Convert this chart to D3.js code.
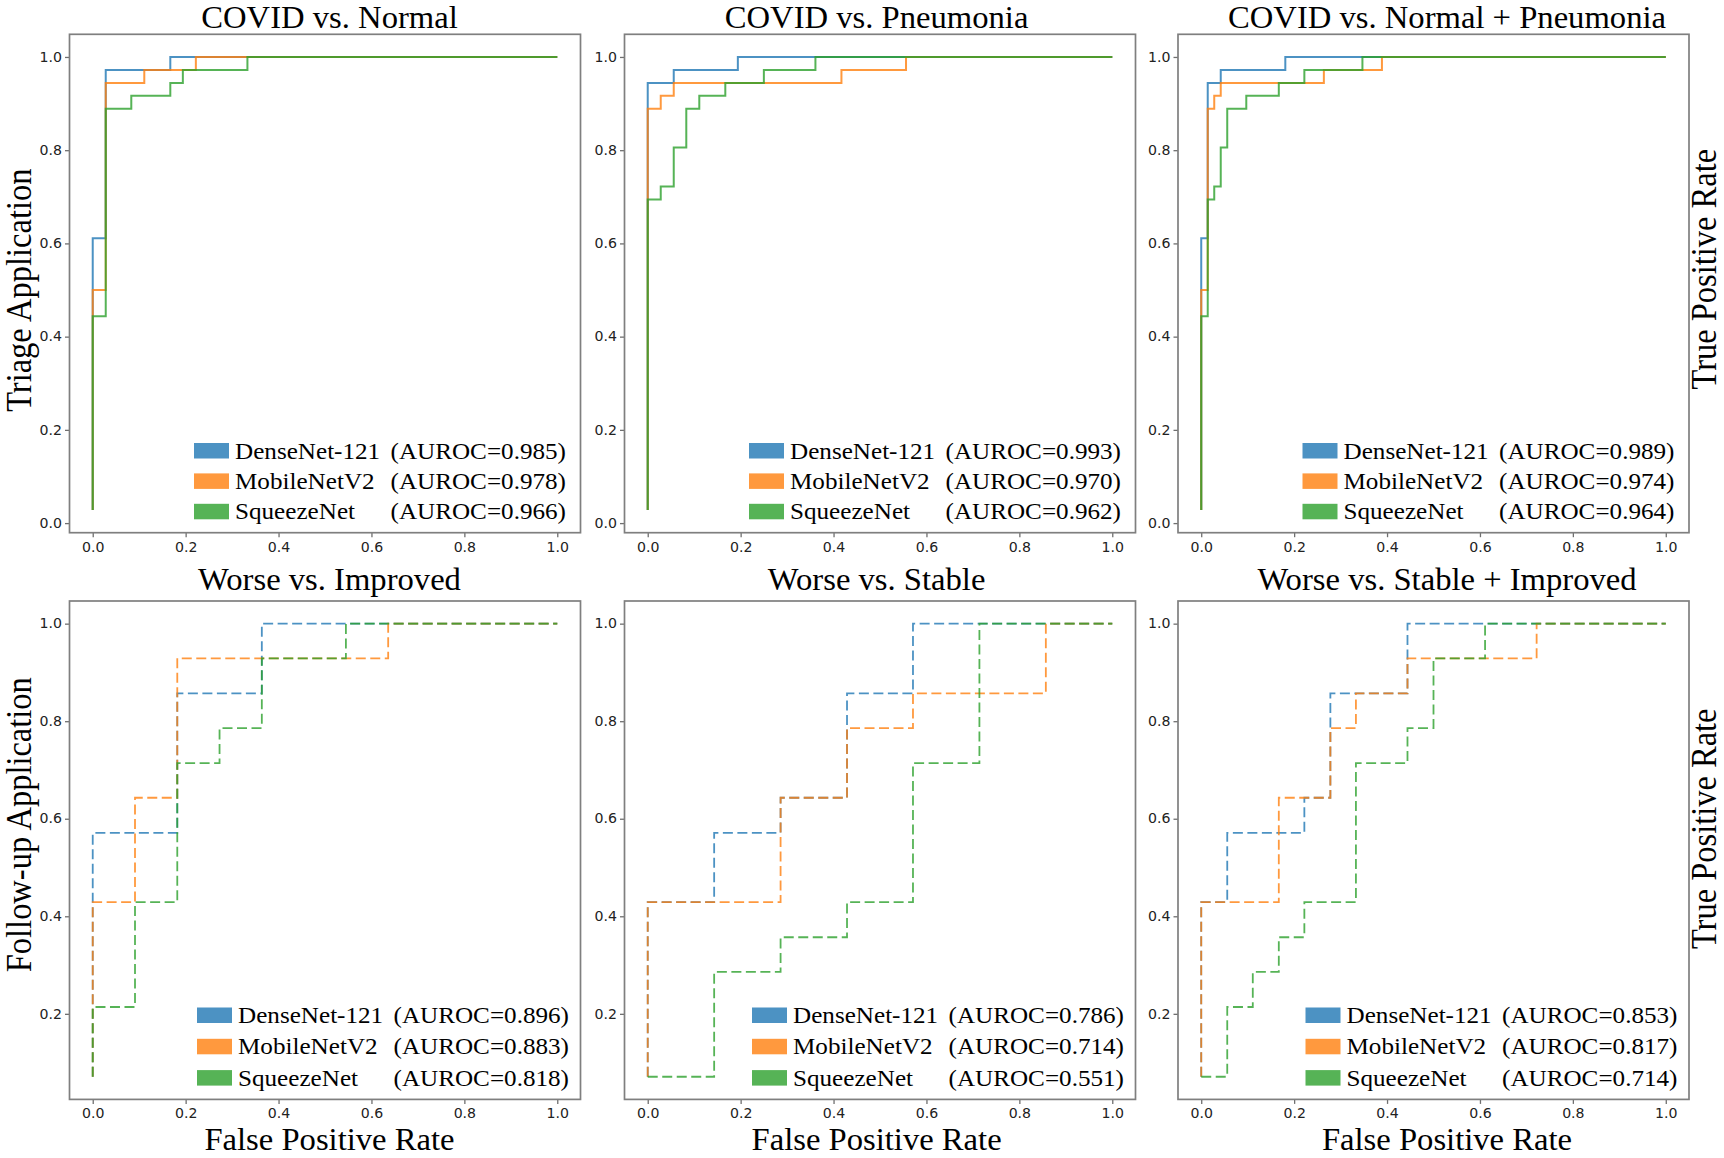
<!DOCTYPE html>
<html>
<head>
<meta charset="utf-8">
<script src="https://cdn.jsdelivr.net/npm/d3@7"></script>
<style>
  body { margin: 0; background: #fff; }
  svg { display: block; background: #fff; }
  .serif { font-family: "Liberation Serif", "Times New Roman", serif; fill: #000; }
  .tick text { font-family: "DejaVu Sans", sans-serif; font-size: 13.2px; fill: #222; }
  .tick line { stroke: #6f6f6f; stroke-width: 1.3; }
</style>
</head>
<body>
<svg id="chart" width="1724" height="1158"></svg>
<script>
// models, colours, labels
var models = ["DenseNet-121", "MobileNetV2", "SqueezeNet"];
var colors = ["#1f77b4", "#ff7f0e", "#2ca02c"];
var titles = [
  ["COVID vs. Normal", "COVID vs. Pneumonia", "COVID vs. Normal + Pneumonia"],
  ["Worse vs. Improved", "Worse vs. Stable", "Worse vs. Stable + Improved"]
];
var rowLabels = ["Triage Application", "Follow-up Application"];
var aurocTriage = ["0.985", "0.978", "0.966", "0.993", "0.970", "0.962", "0.989", "0.974", "0.964"];
var aurocFollow = ["0.896", "0.883", "0.818", "0.786", "0.714", "0.551", "0.853", "0.817", "0.714"];

var xTicks = [0, 0.2, 0.4, 0.6, 0.8, 1.0];
var yTicksTriage = [0, 0.2, 0.4, 0.6, 0.8, 1.0];
var yTicksFollow = [0.2, 0.4, 0.6, 0.8, 1.0];

// ROC corners [fpr, tpr]
var cnDense = [[0,0.028],[0,0.611],[0.028,0.611],[0.028,0.972],[0.167,0.972],[0.167,1],[1,1]];
var cnMobile = [[0,0.028],[0,0.5],[0.028,0.5],[0.028,0.944],[0.111,0.944],[0.111,0.972],[0.222,0.972],[0.222,1],[1,1]];
var cnSqueeze = [[0,0.028],[0,0.444],[0.028,0.444],[0.028,0.889],[0.083,0.889],[0.083,0.917],[0.167,0.917],[0.167,0.944],[0.194,0.944],[0.194,0.972],[0.333,0.972],[0.333,1],[1,1]];

var cpDense = [[0,0.028],[0,0.944],[0.056,0.944],[0.056,0.972],[0.194,0.972],[0.194,1],[1,1]];
var cpMobile = [[0,0.028],[0,0.889],[0.028,0.889],[0.028,0.917],[0.056,0.917],[0.056,0.944],[0.417,0.944],[0.417,0.972],[0.556,0.972],[0.556,1],[1,1]];
var cpSqueeze = [[0,0.028],[0,0.694],[0.028,0.694],[0.028,0.722],[0.056,0.722],[0.056,0.806],[0.083,0.806],[0.083,0.889],[0.111,0.889],[0.111,0.917],[0.167,0.917],[0.167,0.944],[0.25,0.944],[0.25,0.972],[0.361,0.972],[0.361,1],[1,1]];

var cnpDense = [[0,0.028],[0,0.611],[0.014,0.611],[0.014,0.944],[0.042,0.944],[0.042,0.972],[0.181,0.972],[0.181,1],[1,1]];
var cnpMobile = [[0,0.028],[0,0.5],[0.014,0.5],[0.014,0.889],[0.028,0.889],[0.028,0.917],[0.042,0.917],[0.042,0.944],[0.264,0.944],[0.264,0.972],[0.389,0.972],[0.389,1],[1,1]];
var cnpSqueeze = [[0,0.028],[0,0.444],[0.014,0.444],[0.014,0.694],[0.028,0.694],[0.028,0.722],[0.042,0.722],[0.042,0.806],[0.056,0.806],[0.056,0.889],[0.097,0.889],[0.097,0.917],[0.167,0.917],[0.167,0.944],[0.222,0.944],[0.222,0.972],[0.347,0.972],[0.347,1],[1,1]];

var wiDense = [[0,0.071],[0,0.571],[0.182,0.571],[0.182,0.857],[0.364,0.857],[0.364,1],[1,1]];
var wiMobile = [[0,0.071],[0,0.429],[0.091,0.429],[0.091,0.643],[0.182,0.643],[0.182,0.929],[0.636,0.929],[0.636,1],[1,1]];
var wiSqueeze = [[0,0.071],[0,0.214],[0.091,0.214],[0.091,0.429],[0.182,0.429],[0.182,0.714],[0.273,0.714],[0.273,0.786],[0.364,0.786],[0.364,0.929],[0.545,0.929],[0.545,1],[1,1]];

var wsDense = [[0,0.071],[0,0.429],[0.143,0.429],[0.143,0.571],[0.286,0.571],[0.286,0.643],[0.429,0.643],[0.429,0.857],[0.571,0.857],[0.571,1],[1,1]];
var wsMobile = [[0,0.071],[0,0.429],[0.286,0.429],[0.286,0.643],[0.429,0.643],[0.429,0.786],[0.571,0.786],[0.571,0.857],[0.857,0.857],[0.857,1],[1,1]];
var wsSqueeze = [[0,0.071],[0.143,0.071],[0.143,0.286],[0.286,0.286],[0.286,0.357],[0.429,0.357],[0.429,0.429],[0.571,0.429],[0.571,0.714],[0.714,0.714],[0.714,1],[1,1]];

var wsiDense = [[0,0.071],[0,0.429],[0.056,0.429],[0.056,0.571],[0.222,0.571],[0.222,0.643],[0.278,0.643],[0.278,0.857],[0.444,0.857],[0.444,1],[1,1]];
var wsiMobile = [[0,0.071],[0,0.429],[0.167,0.429],[0.167,0.643],[0.278,0.643],[0.278,0.786],[0.333,0.786],[0.333,0.857],[0.444,0.857],[0.444,0.929],[0.722,0.929],[0.722,1],[1,1]];
var wsiSqueeze = [[0,0.071],[0.056,0.071],[0.056,0.214],[0.111,0.214],[0.111,0.286],[0.167,0.286],[0.167,0.357],[0.222,0.357],[0.222,0.429],[0.333,0.429],[0.333,0.714],[0.444,0.714],[0.444,0.786],[0.5,0.786],[0.5,0.929],[0.611,0.929],[0.611,1],[1,1]];

var curves = [
  [[cnDense, cnMobile, cnSqueeze], [cpDense, cpMobile, cpSqueeze], [cnpDense, cnpMobile, cnpSqueeze]],
  [[wiDense, wiMobile, wiSqueeze], [wsDense, wsMobile, wsSqueeze], [wsiDense, wsiMobile, wsiSqueeze]]
];
var aurocs = [aurocTriage, aurocFollow];
var yTicks = [yTicksTriage, yTicksFollow];

// layout
var W = 511, H = 498.4;
var colLeft = [69.5, 624.5, 1178];
var rowTop = [34.3, 601];
var S = 1.07; // the figure's text is slightly wider than tall
var titleX = [329.5, 876.6, 1447];
var titleY = [27.5, 590];
var leftLabelX = 31, rightLabelX = 1716;
var leftLabelY = [290.2, 824.7];
var rightLabelY = [269.2, 828.8];
var legPatchOff = [386.5, 383.5], legTextOff = [14.5, 11.5];
var legBottom = [13.4, 13.8], legStep = [30.4, 31.3];

var svg = d3.select("#chart");
svg.append("rect").attr("width", 1724).attr("height", 1158).attr("fill", "#fff");

function serifText(x, y, str, size, anchor, rot) {
  return svg.append("text")
    .attr("class", "serif")
    .attr("transform", "translate(" + x + "," + y + ") scale(" + S + ",1)" + (rot ? " rotate(-90)" : ""))
    .attr("text-anchor", anchor)
    .attr("font-size", size)
    .text(str);
}

for (var r = 0; r < 2; r++) {
  var rowMin = d3.min(curves[r], function(p) { return d3.min(p, function(c) { return d3.min(c, function(d) { return d[1]; }); }); });
  var pad = 0.05 * (1 - rowMin);
  for (var c = 0; c < 3; c++) {
    var x = d3.scaleLinear().domain([-0.05, 1.05]).range([0, W]);
    var y = d3.scaleLinear().domain([rowMin - pad, 1 + pad]).range([H, 0]);
    var g = svg.append("g").attr("transform", "translate(" + colLeft[c] + "," + rowTop[r] + ")");

    var line = d3.line().x(function(d) { return x(d[0]); }).y(function(d) { return y(d[1]); });
    curves[r][c].forEach(function(pts, i) {
      g.append("path")
        .attr("d", line(pts))
        .attr("fill", "none")
        .attr("stroke", colors[i])
        .attr("stroke-opacity", 0.8)
        .attr("stroke-width", r === 0 ? 2 : 1.8)
        .attr("stroke-dasharray", r === 0 ? null : "10,4.5");
    });

    g.append("g").attr("transform", "translate(0," + H + ")")
      .call(d3.axisBottom(x).tickValues(xTicks).tickFormat(d3.format(".1f")).tickSize(4.5).tickPadding(5))
      .call(function(a) { a.select(".domain").remove(); })
      .selectAll("text").attr("transform", "scale(" + S + ",1)");
    g.append("g")
      .call(d3.axisLeft(y).tickValues(yTicks[r]).tickFormat(d3.format(".1f")).tickSize(4.5).tickPadding(2.5))
      .call(function(a) { a.select(".domain").remove(); })
      .selectAll("text").attr("transform", "scale(" + S + ",1)");

    g.append("rect").attr("width", W).attr("height", H)
      .attr("fill", "none").attr("stroke", "#7f7f7f").attr("stroke-width", 1.7);

    // legend
    var fr = colLeft[c] + W, fb = rowTop[r] + H;
    models.forEach(function(m, i) {
      var base = fb - legBottom[r] - (2 - i) * legStep[r];
      var px = fr - legPatchOff[r];
      svg.append("rect").attr("x", px).attr("y", base - 15.5).attr("width", 35).attr("height", 15.5)
        .attr("fill", colors[i]).attr("fill-opacity", 0.8);
      serifText(px + 41, base, m, 23.5, "start");
      serifText(fr - legTextOff[r], base, "(AUROC=" + aurocs[r][c * 3 + i] + ")", 23.5, "end");
    });

    serifText(titleX[c], titleY[r], titles[r][c], 30.5, "middle");
    if (r === 1) serifText(titleX[c], 1150.4, "False Positive Rate", 30.5, "middle");
  }
  serifText(leftLabelX, leftLabelY[r], rowLabels[r], 32.5, "middle", true);
  serifText(rightLabelX, rightLabelY[r], "True Positive Rate", 32.5, "middle", true);
}
</script>
</body>
</html>
